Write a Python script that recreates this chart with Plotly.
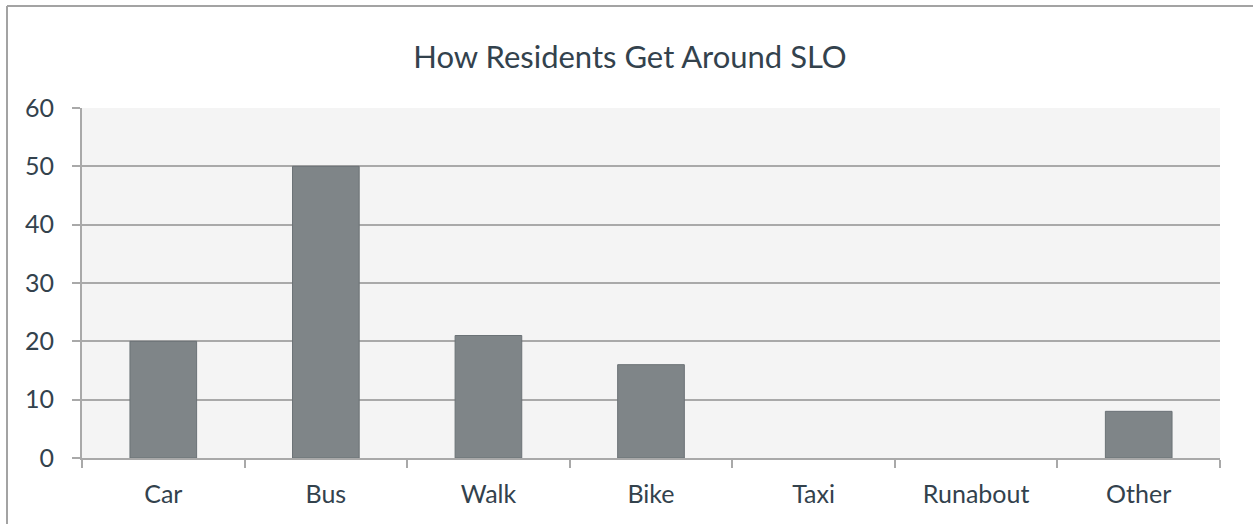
import plotly.graph_objects as go

modes = ["Car", "Bus", "Walk", "Bike", "Taxi", "Runabout", "Other"]
residents = [20, 50, 21, 16, 0, 0, 8]

W, H = 1253, 524
ml, mr, mt, mb = 82, 33, 108, 66
pw, ph = W - ml - mr, H - mt - mb

text_color = "#33424d"
grid_color = "#a9a9a9"

fig = go.Figure(go.Bar(
    x=modes,
    y=residents,
    marker=dict(
        color="#7f8588",
        line=dict(color="#6b7276", width=[1 if v else 0 for v in residents]),
    ),
))

# outer frame: top and left edges only
x0 = (7 - ml) / pw
x1 = (W - ml) / pw
y_top = (H - mb - 6) / ph
y_bot = -mb / ph
fig.add_shape(type="line", xref="paper", yref="paper",
              x0=x0, x1=x1, y0=y_top, y1=y_top,
              line=dict(color="#a3a3a3", width=2))
fig.add_shape(type="line", xref="paper", yref="paper",
              x0=x0, x1=x0, y0=y_top, y1=y_bot,
              line=dict(color="#a3a3a3", width=2))

fig.update_layout(
    width=W,
    height=H,
    margin=dict(l=ml, r=mr, t=mt, b=mb),
    paper_bgcolor="white",
    plot_bgcolor="#f4f4f4",
    font=dict(family="Lato", color=text_color),
    title=dict(
        text="How Residents Get Around SLO",
        x=630 / W, xref="container", xanchor="center",
        y=(H - 57) / H, yanchor="middle",
        font=dict(size=31, color=text_color),
    ),
    bargap=0.59,
    showlegend=False,
)
fig.update_xaxes(
    showgrid=False,
    showline=True, linecolor=grid_color, linewidth=2,
    ticks="outside", tickson="boundaries", ticklen=8,
    tickcolor=grid_color, tickwidth=2,
    tickfont=dict(size=25, color=text_color),
    ticklabelstandoff=13,
)
fig.update_yaxes(
    range=[0, 60],
    dtick=10,
    showgrid=True, gridcolor=grid_color, gridwidth=2,
    showline=True, linecolor=grid_color, linewidth=2,
    ticks="outside", ticklen=8, tickcolor=grid_color, tickwidth=2,
    tickfont=dict(size=25, color=text_color),
    ticklabelstandoff=13,
    zeroline=False,
)

# drop the browser's default body margin so the figure sits at the page origin
fig.write_html(
    "out.html",
    config={"displayModeBar": False},
    post_script="document.body.style.margin='0';",
)
